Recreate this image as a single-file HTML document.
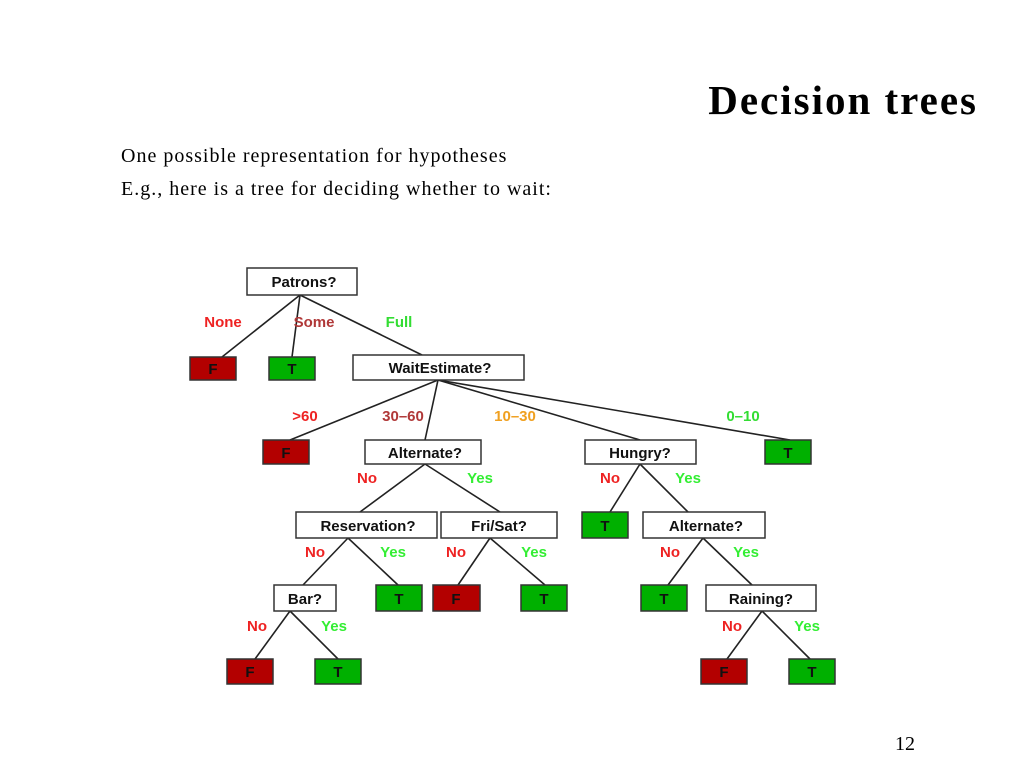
<!DOCTYPE html>
<html><head><meta charset="utf-8"><style>
body{margin:0;width:1024px;height:768px;background:#fff;position:relative;overflow:hidden;font-family:"Liberation Serif",serif}
.t{position:absolute;white-space:nowrap}
</style></head><body>
<div class="t" style="right:46px;top:76px;font-size:41px;font-weight:bold;letter-spacing:2px">Decision trees</div>
<div class="t" style="left:121px;top:145px;font-size:20px;letter-spacing:1px">One possible representation for hypotheses</div>
<div class="t" style="left:121px;top:178px;font-size:20px;letter-spacing:1px">E.g., here is a tree for deciding whether to wait:</div>
<div class="t" style="left:895px;top:733px;font-size:20px">12</div>
<svg width="1024" height="768" style="position:absolute;left:0;top:0" font-family="Liberation Sans, sans-serif" font-weight="bold" font-size="15">
<g stroke="#222" stroke-width="1.6" fill="none">
<line x1="300" y1="295" x2="222" y2="357"/><line x1="300" y1="295" x2="292" y2="357"/><line x1="300" y1="295" x2="422" y2="355"/>
<line x1="438" y1="380" x2="290" y2="440"/><line x1="438" y1="380" x2="425" y2="440"/><line x1="438" y1="380" x2="640" y2="440"/><line x1="438" y1="380" x2="790" y2="440"/>
<line x1="425" y1="464" x2="360" y2="512"/><line x1="425" y1="464" x2="500" y2="512"/>
<line x1="640" y1="464" x2="610" y2="512"/><line x1="640" y1="464" x2="688" y2="512"/>
<line x1="348" y1="538" x2="303" y2="585"/><line x1="348" y1="538" x2="398" y2="585"/>
<line x1="490" y1="538" x2="458" y2="585"/><line x1="490" y1="538" x2="545" y2="585"/>
<line x1="703" y1="538" x2="668" y2="585"/><line x1="703" y1="538" x2="752" y2="585"/>
<line x1="290" y1="611" x2="255" y2="659"/><line x1="290" y1="611" x2="338" y2="659"/>
<line x1="762" y1="611" x2="727" y2="659"/><line x1="762" y1="611" x2="810" y2="659"/>
</g>
<g stroke="#333" stroke-width="1.5">
<rect x="247" y="268" width="110" height="27" fill="#fff"/>
<rect x="190" y="357" width="46" height="23" fill="#b30000"/>
<rect x="269" y="357" width="46" height="23" fill="#00b000"/>
<rect x="353" y="355" width="171" height="25" fill="#fff"/>
<rect x="263" y="440" width="46" height="24" fill="#b30000"/>
<rect x="365" y="440" width="116" height="24" fill="#fff"/>
<rect x="585" y="440" width="111" height="24" fill="#fff"/>
<rect x="765" y="440" width="46" height="24" fill="#00b000"/>
<rect x="296" y="512" width="141" height="26" fill="#fff"/>
<rect x="441" y="512" width="116" height="26" fill="#fff"/>
<rect x="582" y="512" width="46" height="26" fill="#00b000"/>
<rect x="643" y="512" width="122" height="26" fill="#fff"/>
<rect x="274" y="585" width="62" height="26" fill="#fff"/>
<rect x="376" y="585" width="46" height="26" fill="#00b000"/>
<rect x="433" y="585" width="47" height="26" fill="#b30000"/>
<rect x="521" y="585" width="46" height="26" fill="#00b000"/>
<rect x="641" y="585" width="46" height="26" fill="#00b000"/>
<rect x="706" y="585" width="110" height="26" fill="#fff"/>
<rect x="227" y="659" width="46" height="25" fill="#b30000"/>
<rect x="315" y="659" width="46" height="25" fill="#00b000"/>
<rect x="701" y="659" width="46" height="25" fill="#b30000"/>
<rect x="789" y="659" width="46" height="25" fill="#00b000"/>
</g>
<g text-anchor="middle" fill="#111">
<text x="304" y="287">Patrons?</text>
<text x="213" y="374">F</text><text x="292" y="374">T</text>
<text x="440" y="373">WaitEstimate?</text>
<text x="286" y="458">F</text><text x="425" y="458">Alternate?</text><text x="640" y="458">Hungry?</text><text x="788" y="458">T</text>
<text x="368" y="531">Reservation?</text><text x="499" y="531">Fri/Sat?</text><text x="605" y="531">T</text><text x="706" y="531">Alternate?</text>
<text x="305" y="604">Bar?</text><text x="399" y="604">T</text><text x="456" y="604">F</text><text x="544" y="604">T</text><text x="664" y="604">T</text><text x="761" y="604">Raining?</text>
<text x="250" y="677">F</text><text x="338" y="677">T</text><text x="724" y="677">F</text><text x="812" y="677">T</text>
</g>
<g text-anchor="middle">
<text x="223" y="327" fill="#ee2222">None</text><text x="314" y="327" fill="#b03838">Some</text><text x="399" y="327" fill="#33dd33">Full</text>
<text x="305" y="421" fill="#ee2222">&gt;60</text><text x="403" y="421" fill="#b03838">30–60</text><text x="515" y="421" fill="#f0a020">10–30</text><text x="743" y="421" fill="#33dd33">0–10</text>
<text x="367" y="483" fill="#ee2222">No</text><text x="480" y="483" fill="#33ee33">Yes</text>
<text x="610" y="483" fill="#ee2222">No</text><text x="688" y="483" fill="#33ee33">Yes</text>
<text x="315" y="557" fill="#ee2222">No</text><text x="393" y="557" fill="#33ee33">Yes</text>
<text x="456" y="557" fill="#ee2222">No</text><text x="534" y="557" fill="#33ee33">Yes</text>
<text x="670" y="557" fill="#ee2222">No</text><text x="746" y="557" fill="#33ee33">Yes</text>
<text x="257" y="631" fill="#ee2222">No</text><text x="334" y="631" fill="#33ee33">Yes</text>
<text x="732" y="631" fill="#ee2222">No</text><text x="807" y="631" fill="#33ee33">Yes</text>
</g>
</svg>
</body></html>
